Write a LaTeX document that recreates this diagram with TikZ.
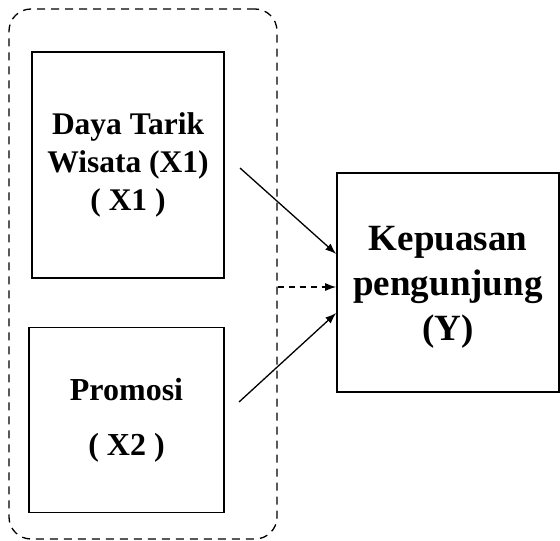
\documentclass[tikz,border=0pt]{standalone}
\usepackage{fontspec}
\setmainfont{Liberation Serif}
\usetikzlibrary{arrows.meta}
\begin{document}
\begin{tikzpicture}[x=1pt,y=-1pt,
  varbox/.style={draw, line width=1.6pt, inner sep=0pt, align=center,
    font=\fontsize{31.5}{38}\selectfont\bfseries},
  grpbox/.style={draw, line width=1.3pt, dash pattern=on 8pt off 6pt, rounded corners=22pt, inner sep=0pt},
  link/.style={line width=1.3pt, -{Latex[length=11pt,width=8pt]}},
  dlink/.style={line width=1.3pt, dash pattern=on 6pt off 5pt, -{Latex[length=11pt,width=8pt]}}]
\useasboundingbox (0,0) rectangle (560,541);
\node[grpbox, minimum width=268pt, minimum height=530pt] (grp) at (143,274) {};
\node[varbox, minimum width=192pt, minimum height=226pt] (x1) at (128,165) {Daya Tarik\\Wisata (X1)\\( X1 )};
\node[varbox, minimum width=195pt, minimum height=185pt, font=\fontsize{32}{55}\selectfont\bfseries] (x2) at (126.5,420) {Promosi\\( X2 )};
\node[varbox, minimum width=222pt, minimum height=219pt,
  label={[align=center, font=\fontsize{37}{45}\selectfont\bfseries, yshift=-5pt]center:Kepuasan\\pengunjung\\(Y)}] (y) at (448,282.5) {};
\coordinate (s1) at (240,168);
\coordinate (s2) at (239,402);
\draw[link] (s1) -- ([yshift=28.5pt]y.west);
\draw[link] (s2) -- ([yshift=-30.5pt]y.west);
\draw[dlink] (grp.east |- 0,287) -- ([yshift=-4.5pt]y.west);
\end{tikzpicture}
\end{document}
